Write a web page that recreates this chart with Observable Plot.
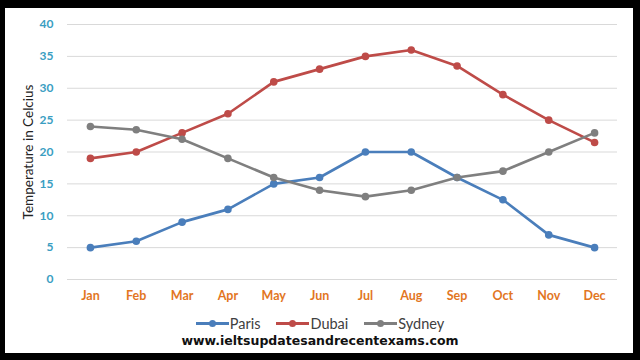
<!DOCTYPE html>
<html>
<head>
<meta charset="utf-8">
<script src="https://cdn.jsdelivr.net/npm/d3@7"></script>
<script src="https://cdn.jsdelivr.net/npm/@observablehq/plot@0.6"></script>
<style>
  html, body { margin: 0; padding: 0; background: #000; }
  #stage { position: relative; width: 640px; height: 360px; overflow: hidden; }
  #panel { position: absolute; left: 5px; top: 8px; width: 628px; height: 345px; background: #fff; }
  #chart { position: absolute; left: 0; top: 0; }
  #legend { position: absolute; left: 0; width: 640px; top: 314px; display: flex; justify-content: center; gap: 16px;
            font-family: Lato, "Open Sans", sans-serif; font-size: 14.5px; color: #404040; padding-left: 0; box-sizing: border-box; }
  .item { display: flex; align-items: center; }
  .sw { position: relative; width: 33px; height: 18px; margin-right: 1px; }
  .sw .ln { position: absolute; left: 0; right: 0; top: 8px; height: 3px; }
  .sw .dt { position: absolute; left: 13px; top: 6px; width: 7px; height: 7px; border-radius: 50%; }
  #caption { position: absolute; left: 0; width: 640px; top: 333px; text-align: center;
             font-family: "DejaVu Sans", sans-serif; font-weight: bold; font-size: 12.5px; color: #111; }
</style>
</head>
<body>
<div id="stage">
  <div id="panel"></div>
  <div id="chart"></div>
  <div id="legend"></div>
  <div id="caption"></div>
</div>
<script>
const months = ["Jan","Feb","Mar","Apr","May","Jun","Jul","Aug","Sep","Oct","Nov","Dec"];
const paris  = [5, 6, 9, 11, 15, 16, 20, 20, 16, 12.5, 7, 5];
const dubai  = [19, 20, 23, 26, 31, 33, 35, 36, 33.5, 29, 25, 21.5];
const sydney = [24, 23.5, 22, 19, 16, 14, 13, 14, 16, 17, 20, 23];
const cities = ["Paris", "Dubai", "Sydney"];
const colors = ["#4a7ebb", "#be4b48", "#7f7f7f"];
const yTicks = [0, 5, 10, 15, 20, 25, 30, 35, 40];
const yLabel = "Temperature in Celcius";
const caption = "www.ieltsupdatesandrecentexams.com";

const seriesValues = [paris, dubai, sydney];
const data = [];
cities.forEach((c, i) => months.forEach((m, j) => data.push({city: c, month: m, temp: seriesValues[i][j]})));

const chart = Plot.plot({
  width: 640,
  height: 305,
  marginLeft: 67,
  marginRight: 23,
  marginTop: 24,
  marginBottom: 26,
  style: {background: "transparent", fontFamily: "Lato, 'Open Sans', sans-serif"},
  x: {type: "point", domain: months, padding: 0.5, round: false},
  y: {domain: [0, 40], ticks: yTicks},
  color: {domain: cities, range: colors},
  marks: [
    Plot.gridY(yTicks, {stroke: "#d9d9d9", strokeOpacity: 1, strokeWidth: 1}),
    Plot.axisY(yTicks, {tickSize: 0, tickPadding: 14, label: null, fill: "#3a9ec2", fontWeight: "bold", fontSize: 12}),
    Plot.axisX({tickSize: 0, tickPadding: 12, label: null, fill: "#e2761f", fontWeight: "bold", fontSize: 12.5}),
    Plot.text([yLabel], {frameAnchor: "left", rotate: -90, dx: -39, fontSize: 13.5, fill: "#222", textAnchor: "middle"}),
    Plot.line(data, {x: "month", y: "temp", z: "city", stroke: "city", strokeWidth: 2.6}),
    Plot.dot(data, {x: "month", y: "temp", fill: "city", r: 3.8})
  ]
});
document.getElementById("chart").appendChild(chart);

const legend = document.getElementById("legend");
cities.forEach((c, i) => {
  const it = document.createElement("div");
  it.className = "item";
  it.innerHTML = `<span class="sw"><span class="ln" style="background:${colors[i]}"></span><span class="dt" style="background:${colors[i]}"></span></span><span>${c}</span>`;
  legend.appendChild(it);
});
document.getElementById("caption").textContent = caption;
</script>
</body>
</html>
